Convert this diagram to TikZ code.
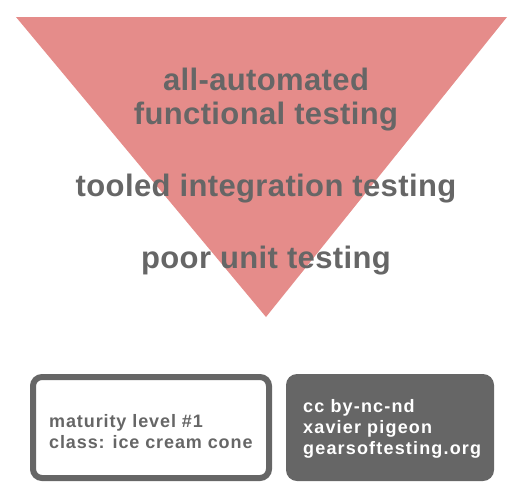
\documentclass[tikz,border=0pt]{standalone}
\usepackage{fontspec}
\setmainfont{Liberation Sans}
\definecolor{cone}{HTML}{E58C8A}
\definecolor{txtgray}{HTML}{666666}
\begin{document}
\begin{tikzpicture}[x=1pt,y=-1pt,
  bigtxt/.style={text=txtgray,font=\bfseries\fontsize{31}{34}\selectfont\addfontfeature{LetterSpace=1.2},inner sep=0pt,anchor=base},
  smalltxt/.style={text=txtgray,font=\bfseries\fontsize{18}{21}\selectfont\addfontfeature{LetterSpace=5},inner sep=0pt,anchor=base west},
  whitetxt/.style={text=white,font=\bfseries\fontsize{18}{21}\selectfont\addfontfeature{LetterSpace=6.5},inner sep=0pt,anchor=base west},
  outlinebox/.style={draw=txtgray,line width=6pt,rounded corners=9pt,fill=white},
  filledbox/.style={fill=txtgray,rounded corners=11pt}]
\useasboundingbox (0,0) rectangle (532,496);
\fill[cone] (16,17) -- (507,17) -- (266,317) -- cycle;
\node[bigtxt] (l1a) at (266,90) {all-automated};
\node[bigtxt] (l1b) at (266,124) {functional testing};
\node[bigtxt] (l2) at (266,196) {tooled integration testing};
\node[bigtxt] (l3) at (266,268) {poor unit testing};
\draw[outlinebox] (33,377) rectangle (269,478);
\fill[filledbox] (286,374) rectangle (494,481);
\node[smalltxt] (b1) at (49,427) {maturity level \#1};
\node[smalltxt] (b2) at (49,448) {class: ice cream cone};
\node[whitetxt] (c1) at (303,412) {cc by-nc-nd};
\node[whitetxt] (c2) at (303,433) {xavier pigeon};
\node[whitetxt] (c3) at (303,454) {gearsoftesting.org};
\end{tikzpicture}
\end{document}
